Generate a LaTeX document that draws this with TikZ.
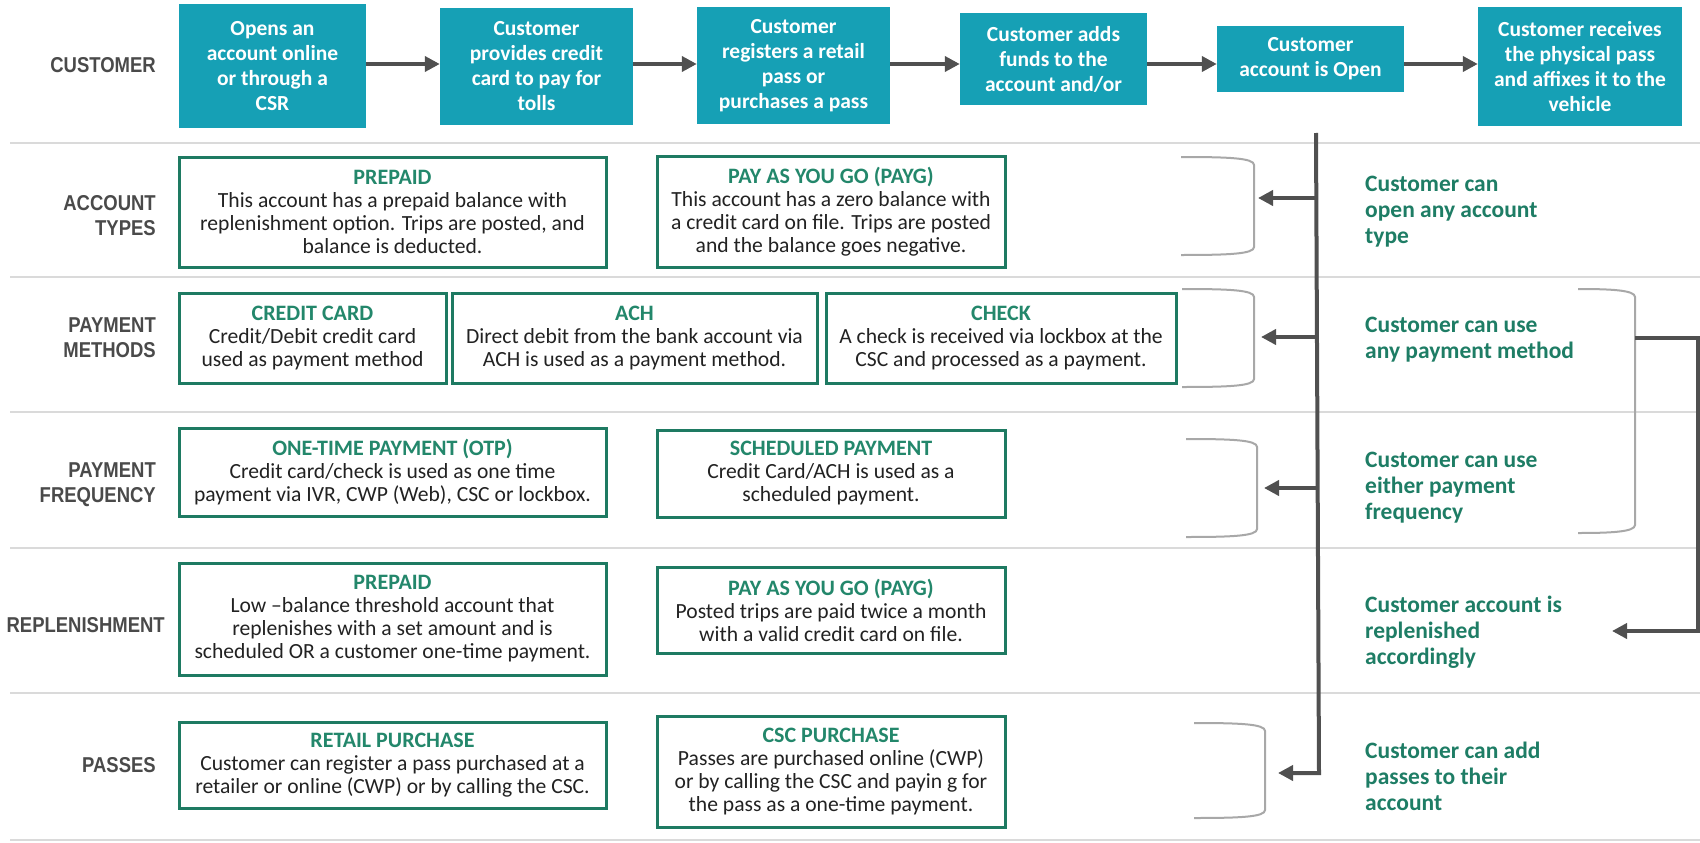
\documentclass[tikz,border=0pt]{standalone}
\usepackage{fontspec}
\setmainfont{Carlito}
\newfontfamily\labelfont[FakeStretch=0.86]{Liberation Sans}
\usetikzlibrary{arrows.meta}

\definecolor{tealfill}{HTML}{16A0B5}
\definecolor{arrowgray}{HTML}{505050}
\definecolor{boxgreen}{HTML}{1E7A62}
\definecolor{titlegreen}{HTML}{23876B}
\definecolor{notegreen}{HTML}{1E7D65}
\definecolor{labelgray}{HTML}{4A4A4A}
\definecolor{rulegray}{HTML}{DADADA}
\definecolor{bracketgray}{HTML}{A8A8A8}
\definecolor{bodytext}{HTML}{222222}

\newcommand\boxhead[1]{\textcolor{titlegreen}{\bfseries\fontsize{22}{23}\selectfont #1}}
% a light "]" shaped bracket: left x, right x, top y, bottom y
\newcommand\sidebracket[4]{%
  \draw[bracketline] (#1,#3) .. controls (#2-25,#3) and (#2,#3+1) .. (#2,#3+8)
    -- (#2,#4-8) .. controls (#2,#4-1) and (#2-25,#4) .. (#1,#4);}

\begin{document}
\begin{tikzpicture}[x=1pt,y=-1pt,
  flowbox/.style={rectangle, fill=tealfill, text=white, align=center, inner sep=0pt,
    font=\bfseries\fontsize{21.5}{25}\selectfont},
  infobox/.style={rectangle, draw=boxgreen, line width=3pt, align=center, inner sep=0pt,
    text=bodytext, font=\fontsize{21.6}{23}\selectfont},
  rowlabel/.style={anchor=east, align=right, inner sep=0pt, text=labelgray,
    font=\labelfont\bfseries\fontsize{21.5}{25}\selectfont},
  note/.style={anchor=west, align=left, inner sep=0pt, text=notegreen,
    font=\bfseries\fontsize{23.5}{26}\selectfont},
  flowarrow/.style={draw=arrowgray, line width=4pt, -{Triangle[length=15pt,width=15pt]}},
  bracketline/.style={draw=bracketgray, line width=2pt},
  rule/.style={draw=rulegray, line width=2pt}]

\useasboundingbox (0,0) rectangle (1700,843);
\fill[white] (0,0) rectangle (1700,843);

% row separators
\foreach \yy in {143,277,412,548,693,840}
  \draw[rule] (10,\yy) -- (1700,\yy);

% customer journey
\node[rowlabel] (lcust) at (156,65) {CUSTOMER};
\node[flowbox, minimum width=187pt, minimum height=124pt] (b1) at (272.5,66)
  {Opens an\\account online\\or through a\\CSR};
\node[flowbox, minimum width=193pt, minimum height=117pt] (b2) at (536.5,66.5)
  {Customer\\provides credit\\card to pay for\\tolls};
\node[flowbox, minimum width=193pt, minimum height=117pt] (b3) at (793.5,65.5)
  {Customer\\registers a retail\\pass or\\purchases a pass};
\node[flowbox, minimum width=187pt, minimum height=92pt] (b4) at (1053.5,59)
  {Customer adds\\funds to the\\account and/or};
\node[flowbox, minimum width=187pt, minimum height=66pt] (b5) at (1310.5,59)
  {Customer\\account is Open};
\node[flowbox, minimum width=204pt, minimum height=119pt] (b6) at (1580,66.5)
  {Customer receives\\the physical pass\\and affixes it to the\\vehicle};

\coordinate (arow) at (0,64);
\draw[flowarrow] (b1.east |- arow) -- (b2.west |- arow);
\draw[flowarrow] (b2.east |- arow) -- (b3.west |- arow);
\draw[flowarrow] (b3.east |- arow) -- (b4.west |- arow);
\draw[flowarrow] (b4.east |- arow) -- (b5.west |- arow);
\draw[flowarrow] (b5.east |- arow) -- (b6.west |- arow);

% row labels
\node[rowlabel] (lacc) at (156,216) {ACCOUNT\\TYPES};
\node[rowlabel] (lpm) at (156,338) {PAYMENT\\METHODS};
\node[rowlabel] (lpf) at (156,485) {PAYMENT\\FREQUENCY};
\node[rowlabel] (lrep) at (165,625) {REPLENISHMENT};
\node[rowlabel] (lpas) at (156,765) {PASSES};

% account types
\node[infobox, minimum width=427pt, minimum height=110pt] (acc1) at (392.5,212)
  {\boxhead{PREPAID}\\This account has a prepaid balance with\\replenishment option. Trips are posted, and\\balance is deducted.};
\node[infobox, minimum width=348pt, minimum height=111pt] (acc2) at (831,211.5)
  {\boxhead{PAY AS YOU GO (PAYG)}\\This account has a zero balance with\\a credit card on file. Trips are posted\\and the balance goes negative.};

% payment methods
\node[infobox, minimum width=267pt, minimum height=90pt] (pm1) at (312.5,338)
  {\boxhead{CREDIT CARD}\\Credit/Debit credit card\\used as payment method};
\node[infobox, minimum width=365pt, minimum height=90pt] (pm2) at (634.5,338)
  {\boxhead{ACH}\\Direct debit from the bank account via\\ACH is used as a payment method.};
\node[infobox, minimum width=350pt, minimum height=90pt] (pm3) at (1001,338)
  {\boxhead{CHECK}\\A check is received via lockbox at the\\CSC and processed as a payment.};

% payment frequency
\node[infobox, minimum width=427pt, minimum height=88pt] (pf1) at (392.5,472)
  {\boxhead{ONE-TIME PAYMENT (OTP)}\\Credit card/check is used as one time\\payment via IVR, CWP (Web), CSC or lockbox.};
\node[infobox, minimum width=348pt, minimum height=87pt] (pf2) at (831,473.5)
  {\boxhead{SCHEDULED PAYMENT}\\Credit Card/ACH is used as a\\scheduled payment.};

% replenishment
\node[infobox, minimum width=427pt, minimum height=112pt] (rp1) at (392.5,619)
  {\boxhead{PREPAID}\\Low –balance threshold account that\\replenishes with a set amount and is\\scheduled OR a customer one-time payment.};
\node[infobox, minimum width=348pt, minimum height=86pt] (rp2) at (831,610)
  {\boxhead{PAY AS YOU GO (PAYG)}\\Posted trips are paid twice a month\\with a valid credit card on file.};

% passes
\node[infobox, minimum width=427pt, minimum height=86pt] (ps1) at (392.5,765)
  {\boxhead{RETAIL PURCHASE}\\Customer can register a pass purchased at a\\retailer or online (CWP) or by calling the CSC.};
\node[infobox, minimum width=348pt, minimum height=111pt] (ps2) at (831,771.5)
  {\boxhead{CSC PURCHASE}\\Passes are purchased online (CWP)\\or by calling the CSC and payin g for\\the pass as a one-time payment.};

% brackets grouping each row
\sidebracket{1181}{1254}{157}{255}
\sidebracket{1182}{1254}{289}{387}
\sidebracket{1186}{1257}{439}{537}
\sidebracket{1194}{1265}{723}{818}
\sidebracket{1578}{1635}{289}{533}

% trunk from the open account down through the rows
\coordinate (ttop) at (1316,133);
\coordinate (tbot) at (1319,773);
\coordinate (tip5) at (1278,773);
\coordinate (j1) at (1317,198);  \coordinate (tip1) at (1258,198);
\coordinate (j2) at (1317,337);  \coordinate (tip2) at (1261,337);
\coordinate (j3) at (1318,488);  \coordinate (tip3) at (1264,488);
\draw[flowarrow] (ttop) -- (tbot) -- (tip5);
\draw[flowarrow] (j1) -- (tip1);
\draw[flowarrow] (j2) -- (tip2);
\draw[flowarrow] (j3) -- (tip3);

% loop from payment options to replenishment
\coordinate (lp1) at (1635,338);
\coordinate (lp2) at (1698,338);
\coordinate (lp3) at (1698,631);
\coordinate (lp4) at (1612,631);
\draw[flowarrow] (lp1) -- (lp2) -- (lp3) -- (lp4);

% notes
\node[note] (n1) at (1365,211.5) {Customer can\\open any account\\type};
\node[note] (n2) at (1365,339.5) {Customer can use\\any payment method};
\node[note] (n3) at (1365,488) {Customer can use\\either payment\\frequency};
\node[note] (n4) at (1365,632) {Customer account is\\replenished\\accordingly};
\node[note] (n5) at (1365,776.5) {Customer can add\\passes to their\\account};

\end{tikzpicture}
\end{document}
